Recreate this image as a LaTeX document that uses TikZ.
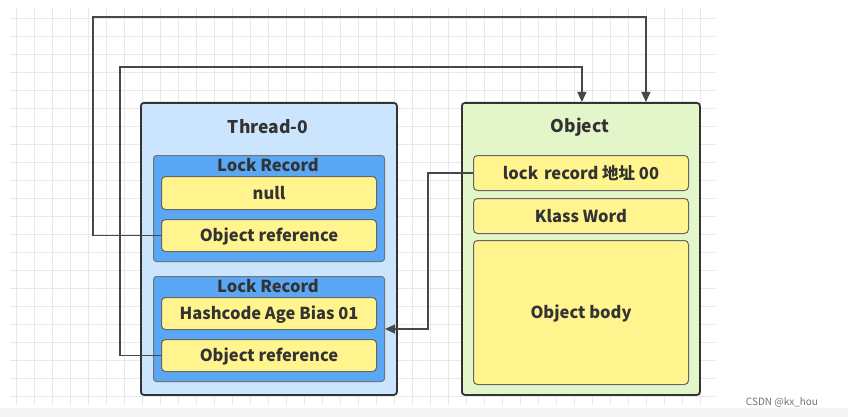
\documentclass[tikz,border=0pt]{standalone}
\usepackage{fontspec}
\setmainfont{Noto Sans CJK SC}
\usetikzlibrary{arrows.meta}
\definecolor{edge}{HTML}{333333}
\definecolor{threadfill}{HTML}{CCE5FF}
\definecolor{lrfill}{HTML}{5AA8F5}
\definecolor{itemfill}{HTML}{FFF48E}
\definecolor{objfill}{HTML}{E2F6CA}
\definecolor{txt}{HTML}{333333}
\tikzset{
  gridline/.style={draw=black!9, line width=0.7pt},
  outerbox/.style={draw=edge, line width=1.8pt, rounded corners=3pt, anchor=north west, inner sep=0pt},
  lrbox/.style={draw=black!55, line width=1pt, fill=lrfill, rounded corners=3pt, anchor=north west, inner sep=0pt},
  item/.style={draw=black!60, line width=1pt, fill=itemfill, rounded corners=4pt, anchor=north west, inner sep=0pt,
    font=\fontsize{16.5}{18}\selectfont\bfseries, text=txt, text height=13pt, text depth=1pt},
  title/.style={font=\fontsize{17.5}{20}\selectfont\bfseries, text=txt, inner sep=0pt},
  lrtitle/.style={font=\fontsize{16.5}{18}\selectfont\bfseries, text=txt, inner sep=0pt},
  conn/.style={draw=black!72, line width=1.3pt},
  tip/.style={-{Triangle[length=10pt,width=9pt]}},
}
\begin{document}
\begin{tikzpicture}[x=1pt,y=-1pt]
\useasboundingbox (0,0) rectangle (848,417);
\fill[white] (0,0) rectangle (848,417);
\fill[black!4] (0,408) rectangle (848,417);
% grid
\foreach \i in {0,...,38} {\draw[gridline] (16+18*\i,8) -- (16+18*\i,405);}
\foreach \j in {0,...,21} {\draw[gridline] (10,18+18*\j) -- (715,18+18*\j);}
% Thread-0
\node[outerbox, fill=threadfill, minimum width=256pt, minimum height=292pt] (thread) at (140,102) {};
\node[title] (tt) at (268,127) {Thread-0};
\node[lrbox, minimum width=231pt, minimum height=106pt] (rec1) at (153,155) {};
\node[lrtitle] (rt1) at (268,165) {Lock Record};
\node[item, minimum width=215pt, minimum height=33pt] (null) at (161,176) {null};
\node[item, minimum width=215pt, minimum height=32pt] (or1) at (161,219) {Object reference};
\node[lrbox, minimum width=231pt, minimum height=105pt] (rec2) at (153,276) {};
\node[lrtitle] (rt2) at (268,286) {Lock Record};
\node[item, minimum width=215pt, minimum height=32pt] (hash) at (161,297) {Hashcode Age Bias 01};
\node[item, minimum width=215pt, minimum height=32pt] (or2) at (161,339) {Object reference};
% Object
\node[outerbox, fill=objfill, minimum width=238pt, minimum height=292pt] (obj) at (461,102) {};
\node[title] (ot) at (580,127) {Object};
\node[item, minimum width=215pt, minimum height=35pt] (lr) at (473,155) {lock\hspace{0.35em}record 地址 00};
\node[item, minimum width=215pt, minimum height=35pt] (kw) at (473,198) {Klass Word};
\node[item, minimum width=215pt, minimum height=144pt] (body) at (473,240) {Object body};
% connectors
\draw[conn, tip] (or1.west) -| (93,17) -| ([xshift=65pt]obj.north);
\draw[conn, tip] (or2.west) -| (120,67) -| ([xshift=1pt]obj.north);
\draw[conn, tip] (lr.west) -- ++(-45,0) |- (rec2.east);
% watermark
\node[font=\fontsize{10}{12}\selectfont, text=black!55, inner sep=0pt] (wm) at (782,402) {CSDN @kx\_hou};
\end{tikzpicture}
\end{document}
